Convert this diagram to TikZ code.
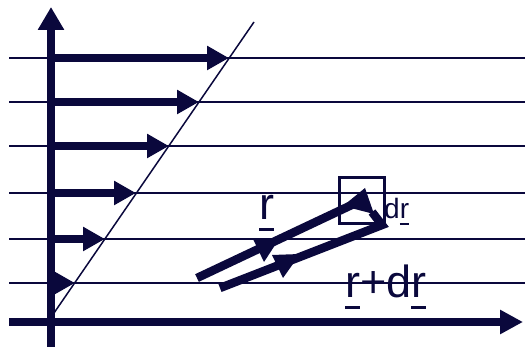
\documentclass[tikz,border=0pt]{standalone}
\usepackage{fontspec}
\setmainfont{Liberation Sans}
\usetikzlibrary{arrows.meta}
\definecolor{navy}{RGB}{10,8,60}
\newcommand\ulvec[3]{\setbox0\hbox{#1}\rlap{\rule[-#2]{\wd0}{#3}}\box0}
\tikzset{
  gridline/.style={draw=navy, line width=1.8pt},
  slopeline/.style={draw=navy, line width=1.5pt},
  axisline/.style={draw=navy, line width=8pt},
  velarrow/.style={draw=navy, line width=8pt, -{Triangle[length=22pt,width=23pt]}},
  vecline/.style={draw=navy, line width=8.5pt, line join=miter},
  headfill/.style={fill=navy},
  boxline/.style={draw=navy, line width=3pt},
  biglabel/.style={anchor=base west, inner sep=0pt, text=navy, font=\fontsize{45}{45}\selectfont},
  smalllabel/.style={anchor=base west, inner sep=0pt, text=navy, font=\fontsize{28}{28}\selectfont}
}
\begin{document}
\begin{tikzpicture}[x=1pt,y=-1pt]
\useasboundingbox (0,0) rectangle (525,347);
% grid lines
\foreach \y in {58,102,146,193,239,283}
  \draw[gridline] (9,\y) -- (525,\y);
% slope line
\draw[slopeline] (54,313) -- (254,22);
% velocity arrows
\foreach \y/\x in {58/229,102/199,146/169,193/136,239/105,283/75}
  \draw[velarrow] (51,\y) -- (\x,\y);
% axes
\draw[axisline, -{Triangle[length=23pt,width=25pt]}] (51,347) -- (51,7);
\draw[axisline, -{Triangle[length=23pt,width=23pt]}] (9,322) -- (523,322);
% vector r
\draw[vecline] (197,278) -- (358,202);
\fill[headfill] (365,188) -- (343,206) -- (374,214) -- cycle;
\fill[headfill] (279,239) -- (253,239) -- (264,262) -- cycle;
% vector r+dr and dr
\draw[vecline] (220,288) -- (382,225) -- (372,212);
\fill[headfill] (300,254) -- (272,255) -- (283,278) -- cycle;
% box
\draw[boxline] (339,178) rectangle (384,224);
% labels
\node[biglabel] (rlab) at (259,220) {\ulvec{r}{11pt}{2.8pt}};
\node[biglabel] (rdrlab) at (345,298) {\ulvec{r}{11pt}{2.8pt}+d\ulvec{r}{11pt}{2.8pt}};
\node[smalllabel] (drlab) at (384,219) {d\ulvec{r}{6pt}{2pt}};
\end{tikzpicture}
\end{document}
